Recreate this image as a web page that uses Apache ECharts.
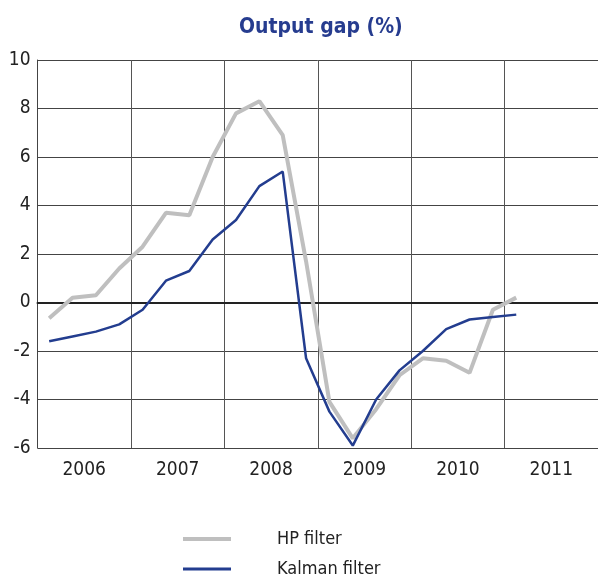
<!DOCTYPE html>
<html>
<head>
<meta charset="utf-8">
<script src="https://cdn.jsdelivr.net/npm/echarts@6/dist/echarts.min.js"></script>
<style>html,body{margin:0;padding:0;background:#fff}#chart{width:598px;height:578px}</style>
</head>
<body>
<div id="chart"></div>
<script>
var years = ['2006', '2007', '2008', '2009', '2010', '2011'];
var quarters = ['2006Q1','2006Q2','2006Q3','2006Q4','2007Q1','2007Q2','2007Q3','2007Q4',
  '2008Q1','2008Q2','2008Q3','2008Q4','2009Q1','2009Q2','2009Q3','2009Q4',
  '2010Q1','2010Q2','2010Q3','2010Q4','2011Q1'];
var hpFilter = [-0.65, 0.2, 0.3, 1.4, 2.3, 3.7, 3.6, 6.0, 7.8, 8.3, 6.9, 1.7,
  -4.1, -5.6, -4.4, -3.0, -2.3, -2.4, -2.9, -0.3, 0.2];
var kalmanFilter = [-1.6, -1.4, -1.2, -0.9, -0.3, 0.9, 1.3, 2.6, 3.4, 4.8, 5.4, -2.3,
  -4.5, -5.9, -4.0, -2.8, -2.0, -1.1, -0.7, -0.6, -0.5];
var yTicks = [-6, -4, -2, 0, 2, 4, 6, 8, 10];

var FONT = "'DejaVu Sans Condensed', 'Liberation Sans Narrow', 'DejaVu Sans', sans-serif";
var STRETCH = 'condensed';

function qx(q) {
  var y = parseInt(q.slice(0, 4), 10);
  var n = parseInt(q.slice(5), 10);
  return y + (n - 0.5) / 4;
}
function pairs(vals) {
  return quarters.map(function (q, i) { return [qx(q), vals[i]]; });
}

var chart = echarts.init(document.getElementById('chart'), null, { renderer: 'canvas' });
chart.setOption({
  animation: false,
  backgroundColor: '#ffffff',
  title: {
    text: 'Output gap (%)',
    left: 239,
    top: 17,
    padding: 0,
    textStyle: { fontFamily: FONT, fontStyle: STRETCH, fontSize: 21, fontWeight: 'bold', color: '#263c8f' }
  },
  grid: { left: 37.5, right: -3.5, top: 60, bottom: 130, containLabel: false },
  legend: {
    orient: 'vertical',
    left: 183,
    top: 530,
    height: 120,
    padding: 0,
    itemWidth: 48,
    itemHeight: 14,
    itemGap: 12,
    symbolKeepAspect: true,
    textStyle: { fontFamily: FONT, fontStyle: STRETCH, fontSize: 18, color: '#222', padding: [0, 0, 0, 41] },
    data: [
      { name: 'HP filter', icon: 'path://M0,0h48v4h-48z' },
      { name: 'Kalman filter', icon: 'path://M0,0h48v3h-48z' }
    ]
  },
  xAxis: [
    {
      type: 'value',
      min: 2006,
      max: 2012,
      interval: 1,
      axisLabel: { show: false },
      axisTick: { show: false },
      axisLine: { show: true, onZero: true, lineStyle: { color: '#222', width: 2 } },
      splitLine: { show: true, lineStyle: { color: '#555', width: 1 } }
    },
    {
      type: 'category',
      data: years,
      position: 'bottom',
      boundaryGap: true,
      axisLine: { show: false },
      axisTick: { show: false },
      splitLine: { show: false },
      axisLabel: { fontFamily: FONT, fontStyle: STRETCH, fontSize: 19, color: '#222', margin: 13 }
    }
  ],
  yAxis: {
    type: 'value',
    min: yTicks[0],
    max: yTicks[yTicks.length - 1],
    interval: 2,
    axisLine: { show: true, lineStyle: { color: '#444', width: 1 } },
    axisTick: { show: false },
    axisLabel: { fontFamily: FONT, fontStyle: STRETCH, fontSize: 19, color: '#222', margin: 7 },
    splitLine: { show: true, lineStyle: { color: '#444', width: 1 } }
  },
  series: [
    {
      name: 'HP filter',
      type: 'line',
      xAxisIndex: 0,
      data: pairs(hpFilter),
      showSymbol: false,
      symbol: 'none',
      lineStyle: { color: '#bfbfbf', width: 4 },
      itemStyle: { color: '#bfbfbf' },
      z: 2
    },
    {
      name: 'Kalman filter',
      type: 'line',
      xAxisIndex: 0,
      data: pairs(kalmanFilter),
      showSymbol: false,
      symbol: 'none',
      lineStyle: { color: '#233d8f', width: 2.5 },
      itemStyle: { color: '#233d8f' },
      z: 3
    }
  ]
});
</script>
</body>
</html>
